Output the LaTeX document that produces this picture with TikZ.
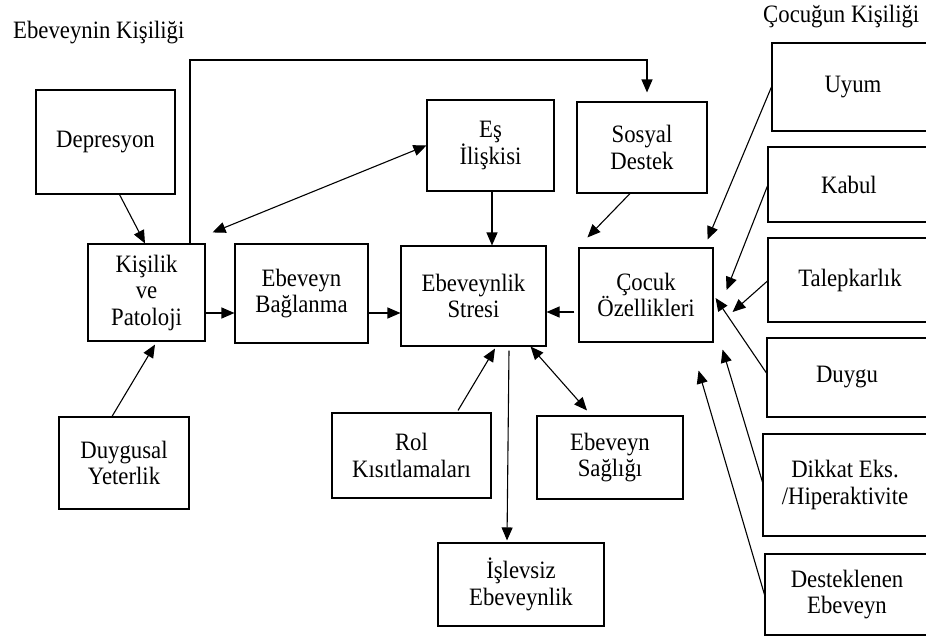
\documentclass[tikz,border=0pt]{standalone}
\usepackage{fontspec}
\setmainfont{Liberation Serif}[FakeStretch=0.91]
\usetikzlibrary{arrows.meta}
\begin{document}
\begin{tikzpicture}[x=1pt,y=-1pt,
  box/.style={draw, line width=1.1pt, rectangle, inner sep=0pt, align=center, font=\fontsize{25}{26.5}\selectfont},
  arr/.style={line width=1.1pt, -{Triangle[length=13pt,width=11pt]}},
  darr/.style={line width=1.1pt, {Triangle[length=13pt,width=11pt]}-{Triangle[length=13pt,width=11pt]}},
  lbl/.style={inner sep=0pt, font=\fontsize{25}{26.5}\selectfont}]
\useasboundingbox (0,0) rectangle (926,637);
\clip (0,0) rectangle (926,637);

% labels
\node[lbl, anchor=base west] (lp) at (13,38) {Ebeveynin Kişiliği};
\node[lbl, anchor=base west] (lc) at (763,22) {Çocuğun Kişiliği};

% left / centre boxes
\node[box, minimum width=139pt, minimum height=104pt] (dep) at (105.5,142) {Depresyon};
\node[box, minimum width=117pt, minimum height=97pt] (kis) at (146.5,292.5) {Kişilik\\ve\\Patoloji};
\node[box, minimum width=133pt, minimum height=99pt] (bag) at (301.5,293.5) {Ebeveyn\\Bağlanma};
\node[box, minimum width=145pt, minimum height=100pt] (str) at (473.5,296) {Ebeveynlik\\Stresi};
\node[box, minimum width=127pt, minimum height=91pt] (es) at (490.5,145.5) {Eş\\İlişkisi};
\node[box, minimum width=130pt, minimum height=91pt] (sos) at (642,147.5) {Sosyal\\Destek};
\node[box, minimum width=134pt, minimum height=94pt] (coc) at (646,295) {Çocuk\\Özellikleri};
\node[box, minimum width=130pt, minimum height=92pt] (dyt) at (124,463) {Duygusal\\Yeterlik};
\node[box, minimum width=159pt, minimum height=85pt] (rol) at (411.5,455.5) {Rol\\Kısıtlamaları};
\node[box, minimum width=146pt, minimum height=83pt] (sag) at (610,457.5) {Ebeveyn\\Sağlığı};
\node[box, minimum width=166pt, minimum height=83pt] (isl) at (521,584.5) {İşlevsiz\\Ebeveynlik};

% right column (cut by the right edge)
\node[box, minimum width=162pt, minimum height=88pt] (uyum) at (853,87) {Uyum};
\node[box, minimum width=162pt, minimum height=75pt] (kabul) at (849,184.5) {Kabul};
\node[box, minimum width=164pt, minimum height=84pt] (talep) at (850,280) {Talepkarlık};
\node[box, minimum width=160pt, minimum height=79pt] (duygu) at (847,377.5) {Duygu};
\node[box, minimum width=164pt, minimum height=102pt] (dikkat) at (845,485) {Dikkat Eks.\\/Hiperaktivite};
\node[box, minimum width=164pt, minimum height=81pt] (dest) at (847,594.5) {Desteklenen\\Ebeveyn};

% top connector
\coordinate (topy) at (0,60);
\draw[arr] ([xshift=43.5pt]kis.north) -- ([xshift=43.5pt]kis.north |- topy) -- ([xshift=5pt]sos.north |- topy) -- ([shift={(5pt,9pt)}]sos.north);

% connectors
\draw[arr] ([xshift=14pt]dep.south) -- ([xshift=-1.5pt]kis.north);
\draw[darr] ([shift={(7pt,11pt)}]kis.north east) -- (es.west);
\draw[arr] ([yshift=-20.5pt]kis.east) -- ([yshift=-20.5pt]kis.east -| bag.west);
\draw[arr] ([yshift=-19.5pt]bag.east) -- ([yshift=-19.5pt]bag.east -| str.west);
\draw[arr] ([xshift=1.5pt]es.south) -- ([xshift=1.5pt]es.south |- str.north);
\draw[arr] ([xshift=-12pt]sos.south) -- ([shift={(9pt,10pt)}]coc.north west);
\draw[arr] ([shift={(-4pt,-17pt)}]coc.west) -- ([yshift=-17pt]coc.west -| str.east);
\draw[arr] (uyum.west) -- ([shift={(-6pt,8pt)}]coc.north east);
\draw[arr] ([yshift=-1.5pt]kabul.west) -- ([shift={(13pt,5pt)}]coc.east);
\draw[arr] ([yshift=-1pt]talep.west) -- ([shift={(19pt,-17pt)}]coc.east);
\draw[arr] ([yshift=4.5pt]duygu.west) -- ([shift={(2pt,-3pt)}]coc.east);
\draw[arr] ([yshift=3pt]dikkat.west) -- ([shift={(9pt,-7pt)}]coc.south east);
\draw[arr] (dest.west) -- ([shift={(-15pt,-28pt)}]coc.south east);
\draw[arr] ([shift={(46.5pt,2pt)}]rol.north) -- ([shift={(21.5pt,-2pt)}]str.south);
\draw[arr] ([shift={(35.5pt,-4pt)}]str.south) -- ([shift={(-14pt,2pt)}]isl.north);
\draw[darr] ([shift={(-16pt,0pt)}]str.south east) -- ([shift={(-23pt,5pt)}]sag.north);
\draw[arr] ([xshift=-12pt]dyt.north) -- ([shift={(8.5pt,-3pt)}]kis.south);
\end{tikzpicture}
\end{document}
